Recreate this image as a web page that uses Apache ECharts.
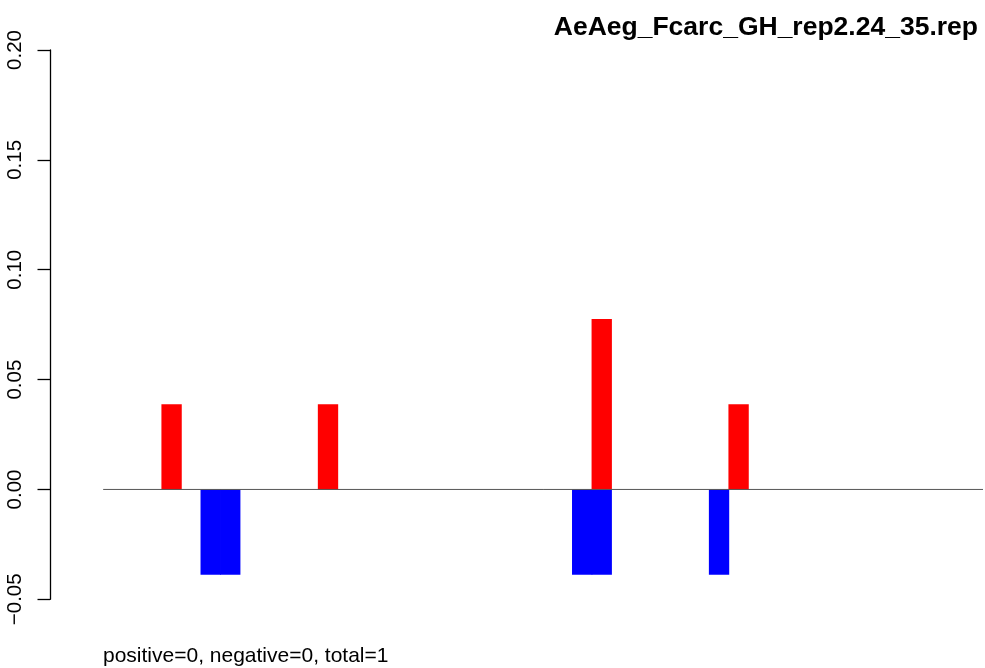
<!DOCTYPE html>
<html>
<head>
<meta charset="utf-8">
<script src="https://cdn.jsdelivr.net/npm/echarts@6/dist/echarts.min.js"></script>
<style>
  html, body { margin: 0; padding: 0; background: #fff; }
  #main { width: 985px; height: 668px; }
</style>
</head>
<body>
<div id="main"></div>
<script>
// slot positions along the sequence (0..47), 3 empty slots before the zero line starts
var slots = [];
for (var i = 0; i < 48; i++) slots.push(String(i));

// red = positive values, blue = negative values (index -> value)
var redIdx = [6, 14, 28, 35];
var redVal = [0.0388, 0.0388, 0.0776, 0.0388];
var blueIdx = [8, 9, 27, 28, 34];
var blueVal = [-0.0388, -0.0388, -0.0388, -0.0388, -0.0388];

var yTicks = [-0.05, 0, 0.05, 0.10, 0.15, 0.20];
var zeroLine = [[3, 0], [48, 0]];

var titleText = 'AeAeg_Fcarc_GH_rep2.24_35.rep';
var footText = 'positive=0, negative=0, total=1';

function fill(idx, val) {
  var arr = slots.map(function () { return null; });
  idx.forEach(function (k, j) { arr[k] = val[j]; });
  return arr;
}

var font = "'Liberation Sans', Arial, Helvetica, sans-serif";

/*
  option
*/
var chart = echarts.init(document.getElementById('main'));
chart.setOption({
  animation: false,
  title: [{
    text: titleText,
    right: 7,
    top: 14,
    padding: 0,
    textStyle: { fontFamily: font, fontSize: 26.5, fontWeight: 'bold', color: '#000' }
  }, {
    text: footText,
    left: 103,
    top: 645.5,
    padding: 0,
    textStyle: { fontFamily: font, fontSize: 21, fontWeight: 'normal', color: '#000' }
  }],
  grid: { left: 44.5, right: 2, top: 50, bottom: 68.7 },
  xAxis: [{
    type: 'category',
    data: slots,
    show: false
  }, {
    type: 'value',
    min: 0,
    max: 48,
    show: false
  }],
  yAxis: {
    type: 'value',
    min: yTicks[0],
    max: yTicks[yTicks.length - 1],
    interval: 0.05,
    offset: -5.5,
    splitLine: { show: false },
    axisLine: { show: true, onZero: false, lineStyle: { color: '#000', width: 1.3 } },
    axisTick: { show: true, length: 12.5, lineStyle: { color: '#000', width: 1.3 } },
    axisLabel: {
      rotate: 90,
      margin: 24,
      fontFamily: font,
      fontSize: 20.5,
      color: '#000',
      formatter: function (v) {
        var s = Math.abs(v).toFixed(2);
        return v < -1e-9 ? '\u2212' + s : s;
      }
    }
  },
  series: [{
    type: 'bar',
    stack: 'a',
    data: fill(redIdx, redVal),
    barWidth: '104%',
    barCategoryGap: 0,
    itemStyle: { color: '#ff0000' }
  }, {
    type: 'bar',
    stack: 'a',
    data: fill(blueIdx, blueVal),
    barWidth: '104%',
    barCategoryGap: 0,
    itemStyle: { color: '#0000ff' }
  }, {
    type: 'line',
    xAxisIndex: 1,
    data: zeroLine,
    symbol: 'none',
    lineStyle: { color: '#555', width: 1 },
    z: 3
  }]
});
</script>
</body>
</html>
